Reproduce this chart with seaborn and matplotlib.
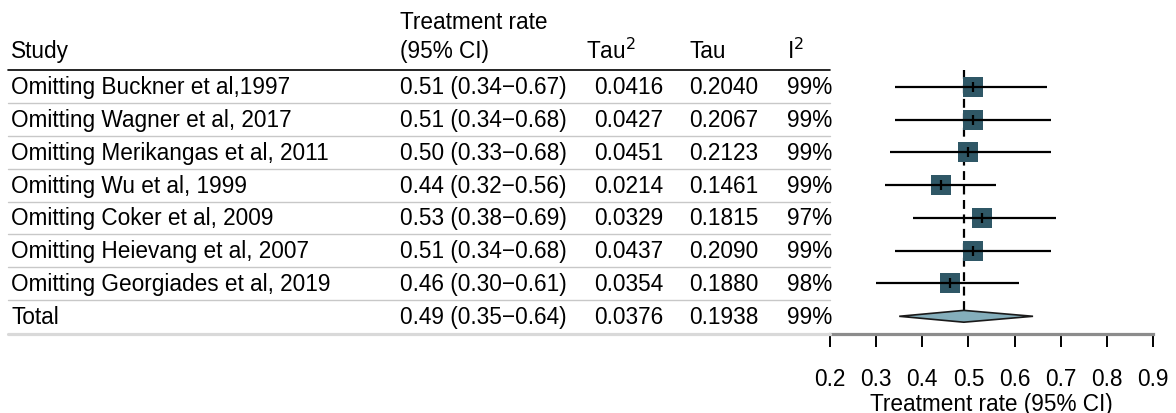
import numpy as np
import pandas as pd
import matplotlib
matplotlib.use("Agg")
import matplotlib.pyplot as plt
import matplotlib.transforms as mtransforms
from matplotlib.lines import Line2D
import seaborn as sns

studies = ["Omitting Buckner et al,1997", "Omitting Wagner et al, 2017",
           "Omitting Merikangas et al, 2011", "Omitting Wu et al, 1999",
           "Omitting Coker et al, 2009", "Omitting Heievang et al, 2007",
           "Omitting Georgiades et al, 2019"]
est = [0.51, 0.51, 0.50, 0.44, 0.53, 0.51, 0.46]
lo = [0.34, 0.34, 0.33, 0.32, 0.38, 0.34, 0.30]
hi = [0.67, 0.68, 0.68, 0.56, 0.69, 0.68, 0.61]
tau2 = ["0.0416", "0.0427", "0.0451", "0.0214", "0.0329", "0.0437", "0.0354"]
tau = ["0.2040", "0.2067", "0.2123", "0.1461", "0.1815", "0.2090", "0.1880"]
i2 = ["99%", "99%", "99%", "99%", "97%", "99%", "98%"]

total_est, total_lo, total_hi = 0.49, 0.35, 0.64
total_tau2, total_tau, total_i2 = "0.0376", "0.1938", "99%"

xticks = [0.2, 0.3, 0.4, 0.5, 0.6, 0.7, 0.8, 0.9]

df = pd.DataFrame({"study": studies, "est": est, "lo": lo, "hi": hi,
                   "row": np.arange(len(studies))})

sns.set_theme(style="white")
plt.rcParams["font.family"] = ["Liberation Sans", "DejaVu Sans"]
plt.rcParams["text.color"] = "black"
plt.rcParams["axes.labelcolor"] = "black"
plt.rcParams["xtick.color"] = "black"
plt.rcParams["xtick.labelcolor"] = "black"

W, H = 1176, 414
fig = plt.figure(figsize=(W / 100, H / 100), dpi=100)
ax = fig.add_axes([830 / W, (H - 335) / H, (1153 - 830) / W, (335 - 60) / H])

fs = 16.3
n = len(studies)

# reference line at the pooled estimate
ax.vlines(total_est, -0.5, n, color="black", lw=1.6, linestyles=(0, (4, 2.5)), zorder=1)

# study squares + CIs
sns.scatterplot(data=df, x="est", y="row", marker="s", s=210, color="#2F5766",
                linewidth=0, ax=ax, zorder=2, legend=False)
ax.hlines(df["row"], df["lo"], df["hi"], color="black", lw=1.6, zorder=3)
ax.plot(df["est"], df["row"], ls="none", marker="|", ms=7, mew=1.6, color="black", zorder=4)

# diamond for total
h = 0.18
ax.fill([total_lo, total_est, total_hi, total_est], [n, n - h, n, n + h],
        facecolor="#84AEBB", edgecolor="#1a1a1a", lw=1.2, zorder=3)

ax.set_xlim(0.2, 0.9)
ax.set_ylim(7.54, -0.845)
ax.set_xticks(xticks)
ax.set_xticklabels([f"{t:.1f}" for t in xticks], fontsize=fs)
ax.set_yticks([])
ax.set_xlabel("Treatment rate (95% CI)", fontsize=fs, labelpad=1)
ax.set_ylabel("")
for s in ["left", "top", "right"]:
    ax.spines[s].set_visible(False)
ax.spines["bottom"].set_color("#8C8C8C")
ax.spines["bottom"].set_linewidth(2.3)
ax.tick_params(axis="x", direction="out", length=9, width=1.4, color="black", pad=15,
               bottom=True)

# table on the left
trans = mtransforms.blended_transform_factory(fig.transFigure, ax.transData)
cols = {"study": 11, "rate": 400, "tau2": 594, "tau": 689, "i2": 787}

ax.text(11 / W, -1.1, "Study", transform=trans, fontsize=fs, va="center")
ax.text(400 / W, -2.0, "Treatment rate", transform=trans, fontsize=fs, va="center")
ax.text(400 / W, -1.1, "(95% CI)", transform=trans, fontsize=fs, va="center")
ax.text(586 / W, -1.1, "Tau$^2$", transform=trans, fontsize=fs, va="center")
ax.text(690 / W, -1.1, "Tau", transform=trans, fontsize=fs, va="center")
ax.text(787 / W, -1.1, "I$^2$", transform=trans, fontsize=fs, va="center")

rows_text = [(studies[i], f"{est[i]:.2f} ({lo[i]:.2f}\u2212{hi[i]:.2f})", tau2[i], tau[i], i2[i])
             for i in range(n)]
rows_text.append(("Total", f"{total_est:.2f} ({total_lo:.2f}\u2212{total_hi:.2f})",
                  total_tau2, total_tau, total_i2))
for r, (s, ci, t2, t, ii) in enumerate(rows_text):
    ax.text(cols["study"] / W, r, s, transform=trans, fontsize=fs, va="center")
    ax.text(cols["rate"] / W, r, ci, transform=trans, fontsize=fs, va="center")
    ax.text(cols["tau2"] / W, r, t2, transform=trans, fontsize=fs, va="center")
    ax.text(cols["tau"] / W, r, t, transform=trans, fontsize=fs, va="center")
    ax.text(cols["i2"] / W, r, ii, transform=trans, fontsize=fs, va="center")

# table rules (figure lines so they don't touch the axes limits)
fig_y = lambda r: ax.transData.transform((0.5, r))[1] / H
fig.lines.append(Line2D([8 / W, 830 / W], [fig_y(-0.5)] * 2, transform=fig.transFigure,
                        color="black", lw=1.2))
for r in range(n):
    fig.lines.append(Line2D([8 / W, 830 / W], [fig_y(r + 0.5)] * 2,
                            transform=fig.transFigure, color="#C8C8C8", lw=1.0))
fig.lines.append(Line2D([8 / W, 830 / W], [(H - 335) / H] * 2, transform=fig.transFigure,
                        color="#D9D9D9", lw=2.3))

fig.savefig("out.png", dpi=100)
